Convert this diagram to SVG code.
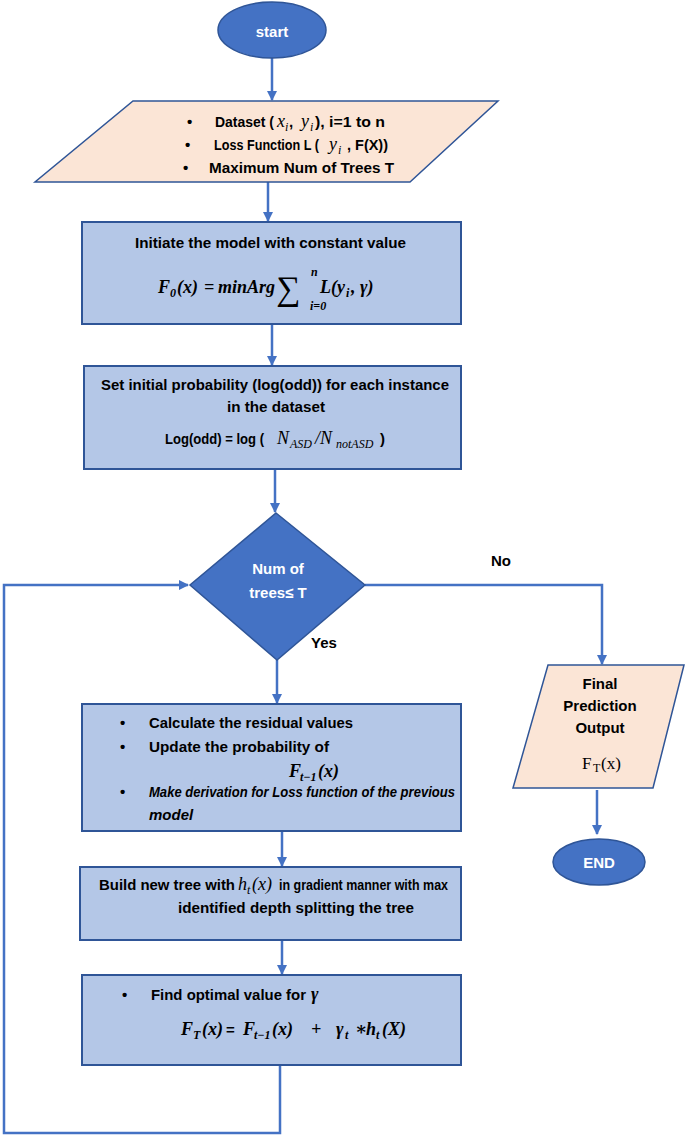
<svg xmlns="http://www.w3.org/2000/svg" width="685" height="1136" viewBox="0 0 685 1136">
<style>
.t{font-family:"Liberation Sans",Arial,sans-serif;font-weight:bold;font-size:15px;fill:#000}
.ti{font-style:italic}
.w{fill:#fff}
.m{font-family:"Liberation Serif","DejaVu Serif",serif;font-style:italic;font-weight:bold;font-size:18px;fill:#000}
.mi{font-family:"Liberation Serif","DejaVu Serif",serif;font-style:italic;font-weight:normal;font-size:18px;fill:#000}
.mr{font-family:"Liberation Serif","DejaVu Serif",serif;font-style:normal;font-weight:normal;fill:#000}
.s{font-size:12px}
.box{fill:#b4c7e7;stroke:#2f5597;stroke-width:2}
.io{fill:#fbe5d6;stroke:#2f5597;stroke-width:1.5}
.term{fill:#4472c4;stroke:#2f5597;stroke-width:1.5}
.c{fill:none;stroke:#4472c4;stroke-width:2.5}
</style>
<defs>
<marker id="a" markerWidth="10" markerHeight="10" refX="9" refY="5" orient="auto" markerUnits="userSpaceOnUse">
<path d="M0,0 L10,5 L0,10 z" fill="#4472c4"/>
</marker>
</defs>

<g id="connectors">
<path class="c" d="M272,58 V100" marker-end="url(#a)"/>
<path class="c" d="M268,182 V221" marker-end="url(#a)"/>
<path class="c" d="M272,324 V365" marker-end="url(#a)"/>
<path class="c" d="M275,469 V512" marker-end="url(#a)"/>
<path class="c" d="M277,660 V703" marker-end="url(#a)"/>
<path class="c" d="M282,831 V866" marker-end="url(#a)"/>
<path class="c" d="M282,940 V974" marker-end="url(#a)"/>
<path class="c" d="M280,1065 V1133 H4 V585 H188" marker-end="url(#a)"/>
<path class="c" d="M365,585 H602 V664" marker-end="url(#a)"/>
<path class="c" d="M597,790 V834" marker-end="url(#a)"/>
<text class="t" x="491" y="566">No</text>
<text class="t" x="311" y="648">Yes</text>
</g>

<g id="start">
<ellipse class="term" cx="272" cy="30" rx="54" ry="28"/>
<text class="t w" x="272" y="37" text-anchor="middle" font-size="20">start</text>
</g>

<g id="inputs">
<polygon class="io" points="133,101 498,101 410,182 35,182"/>
<text class="t" x="187" y="127">•</text>
<text class="t" x="215" y="127" textLength="59" lengthAdjust="spacingAndGlyphs">Dataset (</text>
<text class="mi" x="277" y="127">x<tspan class="s" x="285" dy="4">i</tspan></text>
<text class="t" x="289" y="127">,</text>
<text class="mi" x="301" y="127">y<tspan class="s" x="310" dy="4">i</tspan></text>
<text class="t" x="315" y="127" textLength="70" lengthAdjust="spacingAndGlyphs">), i=1 to n</text>
<text class="t" x="185" y="150">•</text>
<text class="t" x="214" y="150" textLength="105" lengthAdjust="spacingAndGlyphs">Loss Function L (</text>
<text class="mi" x="329" y="150">y<tspan class="s" x="338" dy="4">i</tspan></text>
<text class="t" x="347" y="150" textLength="41" lengthAdjust="spacingAndGlyphs">, F(X))</text>
<text class="t" x="183" y="173">•</text>
<text class="t" x="209" y="173" textLength="185" lengthAdjust="spacingAndGlyphs">Maximum Num of Trees T</text>
</g>

<g id="init">
<rect class="box" x="82" y="222" width="379" height="102"/>
<text class="t" x="135" y="248" textLength="271" lengthAdjust="spacingAndGlyphs">Initiate the model with constant value</text>
<text class="m" x="158" y="293">F<tspan class="s" x="170" dy="4">0</tspan><tspan x="177" dy="-4">(x)</tspan></text>
<text class="m" x="204" y="293">=</text>
<text class="m" x="218" y="293">minArg</text>
<text class="mr" x="276" y="300" font-size="34">∑</text>
<text class="m s" x="311" y="276">n</text>
<text class="m s" x="310" y="310">i=0</text>
<text class="m" x="320" y="293">L(y<tspan class="s" x="346" dy="4">i</tspan><tspan x="351" dy="-4">, γ)</tspan></text>
</g>

<g id="logodd">
<rect class="box" x="84" y="366" width="377" height="103"/>
<text class="t" x="101" y="390" textLength="348" lengthAdjust="spacingAndGlyphs">Set initial probability (log(odd)) for each instance</text>
<text class="t" x="227" y="412" textLength="98" lengthAdjust="spacingAndGlyphs">in the dataset</text>
<text class="t" x="165" y="444" textLength="99" lengthAdjust="spacingAndGlyphs">Log(odd) = log (</text>
<text class="mi" x="277" y="444">N<tspan class="s" x="290" dy="4">ASD</tspan><tspan x="315" dy="-4">/N</tspan><tspan class="s" x="336" dy="4">notASD</tspan></text>
<text class="t" x="380" y="444">)</text>
</g>

<g id="decision">
<polygon class="term" points="276,513 365,585 277,660 190,585"/>
<text class="t w" x="278" y="574" text-anchor="middle">Num of</text>
<text class="t w" x="278" y="598" text-anchor="middle">trees≤ T</text>
</g>

<g id="residuals">
<rect class="box" x="82" y="704" width="379" height="127"/>
<text class="t" x="120" y="728">•</text>
<text class="t" x="149" y="728" textLength="204" lengthAdjust="spacingAndGlyphs">Calculate the residual values</text>
<text class="t" x="120" y="752">•</text>
<text class="t" x="149" y="752" textLength="180" lengthAdjust="spacingAndGlyphs">Update the probability of</text>
<text class="m" x="289" y="777">F<tspan class="s" x="300" dy="4">t−1</tspan><tspan x="318" dy="-4">(x)</tspan></text>
<text class="t" x="120" y="797">•</text>
<text class="t ti" x="149" y="797" textLength="306" lengthAdjust="spacingAndGlyphs">Make derivation for Loss function of the previous</text>
<text class="t ti" x="149" y="820">model</text>
</g>

<g id="build">
<rect class="box" x="80" y="867" width="381" height="73"/>
<text class="t" x="99" y="890" textLength="136" lengthAdjust="spacingAndGlyphs">Build new tree with</text>
<text class="mi" x="238" y="890">h<tspan class="s" x="247" dy="4">t</tspan><tspan x="252" dy="-4">(x)</tspan></text>
<text class="t" x="279" y="890" textLength="169" lengthAdjust="spacingAndGlyphs">in gradient manner with max</text>
<text class="t" x="178" y="913" textLength="236" lengthAdjust="spacingAndGlyphs">identified depth splitting the tree</text>
</g>

<g id="optimal">
<rect class="box" x="82" y="975" width="379" height="90"/>
<text class="t" x="122" y="1000">•</text>
<text class="t" x="151" y="1000" textLength="155" lengthAdjust="spacingAndGlyphs">Find optimal value for</text>
<text class="m" x="311" y="1000">γ</text>
<text class="m" x="181" y="1035">F<tspan class="s" x="193" dy="4">T</tspan><tspan x="202" dy="-4">(x)</tspan></text>
<text class="t" x="226" y="1035">=</text>
<text class="m" x="243" y="1035">F<tspan class="s" x="254" dy="4">t−1</tspan><tspan x="272" dy="-4">(x)</tspan></text>
<text class="m" x="311" y="1035">+</text>
<text class="m" x="336" y="1035">γ<tspan class="s" x="345" dy="4">t</tspan><tspan x="355" dy="-4">∗</tspan><tspan x="366">h</tspan><tspan class="s" x="376" dy="4">t</tspan><tspan x="382" dy="-4">(X)</tspan></text>
</g>

<g id="final">
<polygon class="io" points="548,665 684,665 653,788 513,788"/>
<text class="t" x="600" y="689" text-anchor="middle" font-size="16">Final</text>
<text class="t" x="600" y="711" text-anchor="middle" font-size="16">Prediction</text>
<text class="t" x="600" y="733" text-anchor="middle" font-size="16">Output</text>
<text class="mr" x="582" y="769" font-size="17" font-weight="bold">F<tspan font-size="12" x="593" dy="3">T</tspan><tspan x="601" dy="-3">(x)</tspan></text>
</g>

<g id="end">
<ellipse class="term" cx="599" cy="862" rx="46" ry="23"/>
<text class="t w" x="599" y="868" text-anchor="middle" font-size="16">END</text>
</g>
</svg>
